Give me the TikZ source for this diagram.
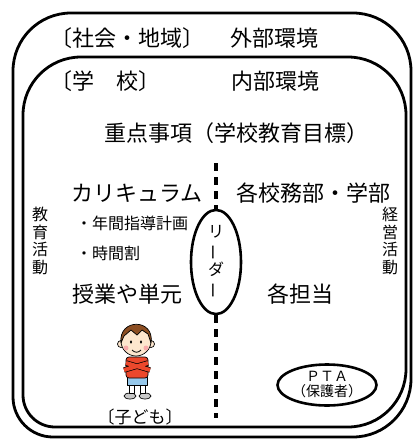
\documentclass[tikz,border=0pt]{standalone}
\usepackage{fontspec}
\setmainfont{Noto Sans CJK JP}
\usepackage{graphicx}
\usepackage{xcolor}
\usepackage{tikz}
\usetikzlibrary{positioning,shapes.geometric}

\definecolor{hair}{RGB}{140,78,34}
\definecolor{skin}{RGB}{253,230,206}
\definecolor{shirt}{RGB}{236,72,44}
\definecolor{shorts}{RGB}{150,200,235}
\definecolor{shoe}{RGB}{200,200,200}
\definecolor{cheek}{RGB}{248,170,170}

\newcommand{\vbar}{\rotatebox[origin=c]{90}{ー}}

\begin{document}
\begin{tikzpicture}[x=1pt,y=-1pt,line join=round,
	frame/.style={line width=2.8pt},
	big/.style={inner sep=0pt,font=\fontsize{22}{26}\selectfont},
	sub/.style={inner sep=0pt,font=\fontsize{16}{19}\selectfont},
	tate/.style={inner sep=0pt,align=center,font=\fontsize{16}{17.5}\selectfont},
	oval/.style={ellipse,draw,line width=2.6pt,inner sep=0pt},
	divider/.style={line width=3.2pt,dash pattern=on 8pt off 6pt},
	outline/.style={draw=black,line width=0.7pt}]
	\useasboundingbox (0,0) rectangle (414,439);
	\fill[white] (0,0) rectangle (414,439);

	\draw[frame] (13,250) [rounded corners=58pt] -- (13,13) -- (411,13) -- (411,437) [rounded corners=40pt] -- (13,437) [rounded corners=55pt] -- cycle;
	\draw[frame] (23,250) [rounded corners=58pt] -- (23,57) -- (406,57) -- (406,427) [rounded corners=32pt] -- (23,427) [rounded corners=50pt] -- cycle;

	\node[big] (society) at (127,38) {〔社会・地域〕};
	\node[big] (outside) at (274,38) {外部環境};
	\node[big] (school) at (105,81) {〔学　校〕};
	\node[big] (inside) at (275,81) {内部環境};
	\node[big] (goals) at (236,133) {重点事項（学校教育目標）};

	\node[big] (curriculum) at (137,193) {カリキュラム};
	\node[big] (depts) at (313,193) {各校務部・学部};
	\node[sub,anchor=west] (plan) at (76,223) {・年間指導計画};
	\node[sub,anchor=west] (timetable) at (76,253) {・時間割};
	\node[big] (lessons) at (127,294) {授業や単元};
	\node[big] (staff) at (300,294) {各担当};
	\node[tate] (eduact) at (40,241) {教\\育\\活\\動};
	\node[tate] (mgmt) at (390,241) {経\\営\\活\\動};

	\node[oval,minimum width=50pt,minimum height=100pt,align=center,
		font=\fontsize{16}{19}\selectfont] (leader) at (216,262) {リ\\\vbar\\ダ\\\vbar};
	\coordinate (top) at (216,163);
	\coordinate (bottom) at (216,418);
	\draw[divider] (top) -- (leader);
	\draw[divider] (leader) -- (bottom);

	\node[oval,minimum width=94pt,minimum height=41pt,align=center,
		font=\fontsize{14}{15}\selectfont] (pta) at (327,385) {ＰＴＡ\\（保護者）};

	% boy
	\filldraw[fill=shoe,outline] (130,396) ellipse (6 and 3) (145,396) ellipse (6 and 3);
	\filldraw[fill=white,outline] (129,384) rectangle (134,393) (140,384) rectangle (145,393);
	\filldraw[fill=shorts,outline] (127,377) rectangle (147,385);
	\filldraw[fill=shirt,outline,rounded corners=3pt] (126,357) rectangle (148,378);
	\draw[line width=5.4pt] (124,370) -- (148,363) (126,363) -- (150,370);
	\draw[shirt,line width=4pt] (124,370) -- (148,363) (126,363) -- (150,370);
	\filldraw[fill=skin,outline] (121,344) circle (3.5) (151,344) circle (3.5);
	\filldraw[fill=skin,outline] (136,341) circle (15);
	\filldraw[fill=hair,outline] (121,343) .. controls (118,318) and (155,318) .. (151,343)
		-- (148,334) -- (142,330) -- (137,335) -- (131,330) -- (124,336) -- cycle;
	\fill[cheek] (126,348) circle (2.5) (146,348) circle (2.5);
	\fill (131,342) ellipse (1.1 and 1.8) (141,342) ellipse (1.1 and 1.8);
	\draw[line width=0.8pt] (132,350) .. controls (135,353) and (138,353) .. (141,350);

	\node[inner sep=0pt,font=\fontsize{17}{20}\selectfont] (child) at (140,417) {〔子ども〕};
\end{tikzpicture}
\end{document}
